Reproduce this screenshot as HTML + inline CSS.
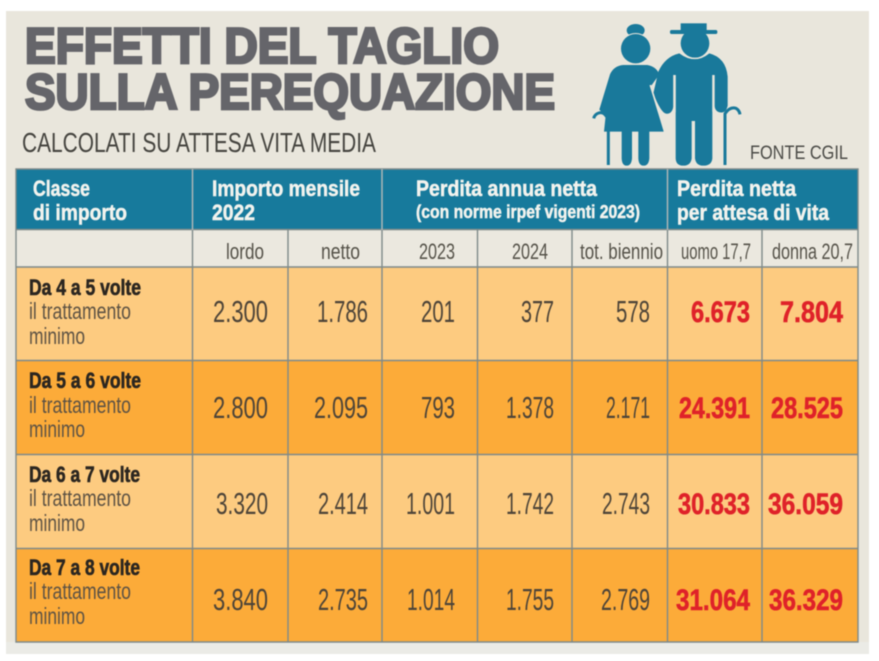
<!DOCTYPE html>
<html lang="it">
<head>
<meta charset="utf-8">
<title>Effetti del taglio sulla perequazione</title>
<style>
html,body{margin:0;padding:0;background:#fff;width:879px;height:661px;overflow:hidden}
svg{display:block;filter:blur(0.5px)}
text{font-family:"Liberation Sans",sans-serif}
.h{font-weight:700;font-size:22px;fill:#f2f3ee;stroke:#f2f3ee;stroke-width:.5px}
.s{font-size:22px;fill:#555249}
.n{font-size:31px;fill:#4d4438}
.r{font-size:30px;font-weight:700;fill:#df2229;stroke:#df2229;stroke-width:.6px}
.b{font-size:22px;font-weight:700;fill:#2b2620;stroke:#2b2620;stroke-width:.6px}
.t{font-size:23px;fill:#5e5344}
.g{stroke:#7e8a8a;stroke-width:1.4;fill:none}
</style>
</head>
<body>
<svg width="879" height="661" viewBox="0 0 879 661" xmlns="http://www.w3.org/2000/svg">
<rect x="6" y="11" width="863" height="643" fill="#e9e6dc"/>
<rect x="6" y="642" width="863" height="12" fill="#ebebe6"/>

<g fill="#65656a" stroke="#65656a" stroke-width="2.8" font-weight="700" font-size="50">
<text x="25" y="63" textLength="474" lengthAdjust="spacingAndGlyphs">EFFETTI DEL TAGLIO</text>
<text x="25" y="109" textLength="530" lengthAdjust="spacingAndGlyphs">SULLA PEREQUAZIONE</text>
</g>
<text x="22" y="152" textLength="354" lengthAdjust="spacingAndGlyphs" font-size="28" fill="#45443f">CALCOLATI SU ATTESA VITA MEDIA</text>
<text x="750" y="159" textLength="98" lengthAdjust="spacingAndGlyphs" font-size="19" fill="#4a4a46">FONTE CGIL</text>

<g transform="translate(590 15) scale(.33333)" fill="#19799b">
<path d="M268 115Q315 150 358 115Q408 128 413 185V272Q408 296 390 292Q375 290 373 270V180H367V430Q365 452 340 452Q318 452 315 430V318H305V430Q302 452 280 452Q258 452 257 430V180H250V275Q246 298 228 296Q212 292 190 235L205 170Q225 125 268 115Z"/>
<rect x="367" y="180" width="7" height="110" fill="#e9e6dc"/>
<rect x="250" y="180" width="7" height="112" fill="#e9e6dc"/>
<circle cx="315" cy="85" r="47" fill="#e9e6dc"/>
<circle cx="315" cy="85" r="43"/>
<rect x="272" y="25" width="78" height="30"/>
<rect x="240" y="45" width="142" height="12" rx="5"/>
<ellipse cx="137" cy="46" rx="27" ry="19"/>
<circle cx="137" cy="100" r="46" fill="#e9e6dc"/>
<circle cx="137" cy="101" r="44"/>
<path d="M100 150H172Q198 154 208 178L184 212L221 350H42L47 302L28 284L60 178Q72 152 100 150Z"/>
<path d="M181 210L221 340" stroke="#e9e6dc" stroke-width="5" fill="none"/>
<path d="M95 345H126V430Q124 452 110 452Q96 452 95 430ZM145 345H178V430Q176 452 161 452Q146 452 145 430Z"/>
<path d="M55 450V315Q44 288 26 294Q14 298 11 310" fill="none" stroke="#19799b" stroke-width="9"/>
<path d="M405 450V296Q420 274 438 280Q448 286 450 298" fill="none" stroke="#19799b" stroke-width="9"/>
</g>

<g>
<rect x="16" y="169" width="842" height="61" fill="#177a9c"/>
<rect x="16" y="230" width="842" height="37" fill="#ebe8df"/>
<rect x="16" y="267" width="842" height="94" fill="#fdcb80"/>
<rect x="16" y="361" width="842" height="94" fill="#fcab39"/>
<rect x="16" y="455" width="842" height="94" fill="#fdcb80"/>
<rect x="16" y="549" width="842" height="93" fill="#fcab39"/>
<g class="g">
<path d="M16 169H858V642H16Z"/>
<path d="M16 229.500H858M16 360.500H858M16 454.500H858M16 548.500H858M16 267H858"/>
<path d="M192.500 169V642M382 169V642M667.500 169V642M288 230V642M477.500 230V642M572 230V642M762 230V642"/>
<path d="M192.500 169V230M382 169V230M667.500 169V230" stroke="#d5dfe0" stroke-opacity=".55"/>
</g>

<text class="h" x="33" y="196" textLength="57" lengthAdjust="spacingAndGlyphs">Classe</text>
<text class="h" x="33" y="220" textLength="94" lengthAdjust="spacingAndGlyphs">di importo</text>
<text class="h" x="212" y="196" textLength="148" lengthAdjust="spacingAndGlyphs">Importo mensile</text>
<text class="h" x="212" y="220" textLength="43" lengthAdjust="spacingAndGlyphs">2022</text>
<text class="h" x="416" y="196" textLength="181" lengthAdjust="spacingAndGlyphs">Perdita annua netta</text>
<text class="h" x="416" y="218" textLength="224" lengthAdjust="spacingAndGlyphs" style="font-size:18px">(con norme irpef vigenti 2023)</text>
<text class="h" x="677" y="196" textLength="119" lengthAdjust="spacingAndGlyphs">Perdita netta</text>
<text class="h" x="677" y="220" textLength="152" lengthAdjust="spacingAndGlyphs">per attesa di vita</text>

<text class="s" x="226" y="259" textLength="38" lengthAdjust="spacingAndGlyphs">lordo</text>
<text class="s" x="321" y="259" textLength="39" lengthAdjust="spacingAndGlyphs">netto</text>
<text class="s" x="419" y="259" textLength="36" lengthAdjust="spacingAndGlyphs">2023</text>
<text class="s" x="512" y="259" textLength="36" lengthAdjust="spacingAndGlyphs">2024</text>
<text class="s" x="580" y="259" textLength="83" lengthAdjust="spacingAndGlyphs">tot. biennio</text>
<text class="s" x="681" y="259" textLength="70" lengthAdjust="spacingAndGlyphs">uomo 17,7</text>
<text class="s" x="772" y="259" textLength="81" lengthAdjust="spacingAndGlyphs">donna 20,7</text>

<g>
<text class="b" x="29" y="295" textLength="112" lengthAdjust="spacingAndGlyphs">Da 4 a 5 volte</text>
<text class="t" x="29" y="319" textLength="102" lengthAdjust="spacingAndGlyphs">il trattamento</text>
<text class="t" x="29" y="344" textLength="56" lengthAdjust="spacingAndGlyphs">minimo</text>
<text class="n" x="213" y="322" textLength="55" lengthAdjust="spacingAndGlyphs">2.300</text>
<text class="n" x="317" y="322" textLength="51" lengthAdjust="spacingAndGlyphs">1.786</text>
<text class="n" x="421" y="322" textLength="34" lengthAdjust="spacingAndGlyphs">201</text>
<text class="n" x="521" y="322" textLength="33" lengthAdjust="spacingAndGlyphs">377</text>
<text class="n" x="616" y="322" textLength="34" lengthAdjust="spacingAndGlyphs">578</text>
<text class="r" x="691" y="322" textLength="59" lengthAdjust="spacingAndGlyphs">6.673</text>
<text class="r" x="780" y="322" textLength="63" lengthAdjust="spacingAndGlyphs">7.804</text>
</g>

<g>
<text class="b" x="29" y="388" textLength="112" lengthAdjust="spacingAndGlyphs">Da 5 a 6 volte</text>
<text class="t" x="29" y="413" textLength="102" lengthAdjust="spacingAndGlyphs">il trattamento</text>
<text class="t" x="29" y="437" textLength="56" lengthAdjust="spacingAndGlyphs">minimo</text>
<text class="n" x="213" y="418" textLength="55" lengthAdjust="spacingAndGlyphs">2.800</text>
<text class="n" x="314" y="418" textLength="54" lengthAdjust="spacingAndGlyphs">2.095</text>
<text class="n" x="421" y="418" textLength="34" lengthAdjust="spacingAndGlyphs">793</text>
<text class="n" x="506" y="418" textLength="48" lengthAdjust="spacingAndGlyphs">1.378</text>
<text class="n" x="606" y="418" textLength="44" lengthAdjust="spacingAndGlyphs">2.171</text>
<text class="r" x="679" y="418" textLength="71" lengthAdjust="spacingAndGlyphs">24.391</text>
<text class="r" x="771" y="418" textLength="72" lengthAdjust="spacingAndGlyphs">28.525</text>
</g>

<g>
<text class="b" x="29" y="482" textLength="111" lengthAdjust="spacingAndGlyphs">Da 6 a 7 volte</text>
<text class="t" x="29" y="506" textLength="102" lengthAdjust="spacingAndGlyphs">il trattamento</text>
<text class="t" x="29" y="531" textLength="56" lengthAdjust="spacingAndGlyphs">minimo</text>
<text class="n" x="216" y="514" textLength="52" lengthAdjust="spacingAndGlyphs">3.320</text>
<text class="n" x="318" y="514" textLength="50" lengthAdjust="spacingAndGlyphs">2.414</text>
<text class="n" x="406" y="514" textLength="49" lengthAdjust="spacingAndGlyphs">1.001</text>
<text class="n" x="506" y="514" textLength="48" lengthAdjust="spacingAndGlyphs">1.742</text>
<text class="n" x="602" y="514" textLength="48" lengthAdjust="spacingAndGlyphs">2.743</text>
<text class="r" x="678" y="514" textLength="72" lengthAdjust="spacingAndGlyphs">30.833</text>
<text class="r" x="768" y="514" textLength="75" lengthAdjust="spacingAndGlyphs">36.059</text>
</g>

<g>
<text class="b" x="29" y="575" textLength="111" lengthAdjust="spacingAndGlyphs">Da 7 a 8 volte</text>
<text class="t" x="29" y="599" textLength="102" lengthAdjust="spacingAndGlyphs">il trattamento</text>
<text class="t" x="29" y="624" textLength="56" lengthAdjust="spacingAndGlyphs">minimo</text>
<text class="n" x="213" y="610" textLength="55" lengthAdjust="spacingAndGlyphs">3.840</text>
<text class="n" x="318" y="610" textLength="50" lengthAdjust="spacingAndGlyphs">2.735</text>
<text class="n" x="407" y="610" textLength="48" lengthAdjust="spacingAndGlyphs">1.014</text>
<text class="n" x="506" y="610" textLength="48" lengthAdjust="spacingAndGlyphs">1.755</text>
<text class="n" x="601" y="610" textLength="49" lengthAdjust="spacingAndGlyphs">2.769</text>
<text class="r" x="676" y="610" textLength="74" lengthAdjust="spacingAndGlyphs">31.064</text>
<text class="r" x="769" y="610" textLength="74" lengthAdjust="spacingAndGlyphs">36.329</text>
</g>
</g>
</svg>
</body>
</html>
